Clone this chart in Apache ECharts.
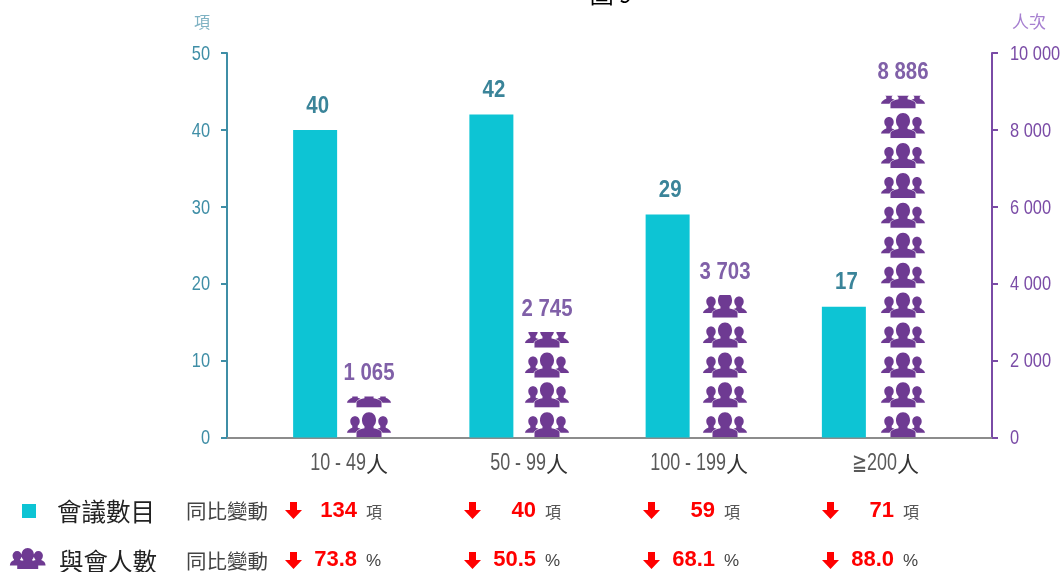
<!DOCTYPE html>
<html><head><meta charset="utf-8">
<script src="https://cdn.jsdelivr.net/npm/echarts@6/dist/echarts.min.js"></script>
<style>html,body{margin:0;padding:0;background:#fff}#c{width:1061px;height:572px}</style>
</head><body><div id="c"></div>
<script>
const categories = ['10 - 49人', '50 - 99人', '100 - 199人', '≧200人'];
const meetings = [40, 42, 29, 17];
const attendees = [1065, 2745, 3703, 8886];
const meetingChange = ['134', '40', '59', '71'];
const attendeeChange = ['73.8', '50.5', '68.1', '88.0'];
const leftTicks = [0, 10, 20, 30, 40, 50];
const rightTicks = [0, 2000, 4000, 6000, 8000, 10000];

const SANS = '"Liberation Sans",Arial,sans-serif';
const CJK = '"Noto Sans CJK TC",sans-serif';
const TEAL = '#3f8ea6', PURPLE = '#7a4ba6', ICON = '#6e3a92';
const NARROW = 0.78, NARROW_BOLD = 0.85;
const people = 'path://M22 0C26 0 29 3 29 8C29 10.5 28 12.5 26.5 14L26.5 16C29.5 16.5 33 17.5 34.5 19.5L34.5 25L9.5 25L9.5 19.5C11 17.5 14.5 16.5 17.5 16L17.5 14C16 12.5 15 10.5 15 8C15 3 18 0 22 0Z'
 + 'M8 4C10.7 4 12.7 6.2 12.7 9C12.7 11 11.7 12.5 10.7 13.5L10.7 15.5L13.5 16.5C11 17.5 9 18.8 8.5 20.5L0 20.5C0.3 18 3 16.5 5.3 15.5L5.3 13.5C4.3 12.5 3.3 11 3.3 9C3.3 6.2 5.3 4 8 4Z'
 + 'M36 4C38.7 4 40.7 6.2 40.7 9C40.7 11 39.7 12.5 38.7 13.5L38.7 15.5C41 16.5 43.7 18 44 20.5L35.5 20.5C35 18.8 33 17.5 30.5 16.5L33.3 15.5L33.3 13.5C32.3 12.5 31.3 11 31.3 9C31.3 6.2 33.3 4 36 4Z';

const txt = (x, y, text, font, fill, align, weight) => ({
  type: 'text', x, y, silent: true,
  style: { text, fill, font: (weight || 'normal') + ' ' + font, textAlign: align || 'left', textVerticalAlign: 'middle' }
});
const arrow = (x, y) => ({
  type: 'polygon', silent: true, x, y,
  shape: { points: [[5,0],[12,0],[12,8],[17,8],[8.5,17],[0,8],[5,8]] },
  style: { fill: '#ff0000' }
});
const rowX = [285, 464, 643, 822];
const graphics = [
  txt(611, -6, '圖 9', '24px ' + CJK, '#000', 'center'),
  txt(202, 22, '項', '16px ' + CJK, '#7fb2c3', 'center'),
  txt(1029, 22, '人次', '17px ' + CJK, '#a67fd0', 'center'),
  txt(57, 512, '會議數目', '24.5px ' + CJK, '#222'),
  txt(59, 562, '與會人數', '24.5px ' + CJK, '#222'),
  txt(186, 511, '同比變動', '20.5px ' + CJK, '#444'),
  txt(186, 561, '同比變動', '20.5px ' + CJK, '#444')
];
rowX.forEach((x, i) => {
  graphics.push(arrow(x, 502), arrow(x, 552));
  graphics.push(txt(x + 72, 511, meetingChange[i], '22px ' + SANS, '#ff0000', 'right', 'bold'));
  graphics.push(txt(x + 72, 560, attendeeChange[i], '22px ' + SANS, '#ff0000', 'right', 'bold'));
  graphics.push(txt(x + 81, 512, '項', '16px ' + CJK, '#555'));
  graphics.push(txt(x + 81, 561, '%', '17px ' + SANS, '#444'));
});

const valueFmt = v => String(v).replace(/\B(?=(\d{3})+$)/g, ' ');
const xBase = { type: 'category', data: categories, axisTick: { show: false }, axisLabel: { show: false },
  axisLine: { show: true, lineStyle: { color: '#8c8c8c', width: 2 } } };

// Condensed text drawn at library-computed coordinates
const narrowText = (x, y, text, fill, font, scale, align) => ({
  type: 'text', x, y, scaleX: scale, silent: true,
  style: { text, fill, font, textAlign: align, textVerticalAlign: 'middle' }
});
const dataLabels = (fmt, fill, dx, dy) => (params, api) => {
  const p = api.coord([api.value(0), api.value(1)]);
  return narrowText(p[0] + dx, p[1] - dy, fmt(api.value(1)), fill, 'bold 24px ' + SANS, NARROW_BOLD, 'center');
};
const tickLabels = (fill, side, align) => (params, api) => {
  const y = api.coord([0, api.value(0)])[1] + 1;
  const r = params.coordSys;
  const x = side === 'left' ? r.x - 17 : r.x + r.width + 18;
  return narrowText(x, y, valueFmt(api.value(0)), fill, '21px ' + SANS, NARROW, align);
};
const labelNudge = [-3, -1, 1, -6];
const categoryLabels = (params, api) => {
  const i = api.value(0);
  const x = api.coord([i, 0])[0] + labelNudge[i];
  const parts = categories[i].replace('人', '');
  return { type: 'group', children: [
    narrowText(x, 464, parts, '#595959', '23px ' + SANS, NARROW, 'right'),
    { type: 'text', x, y: 464, silent: true, style: { text: '人', fill: '#333', font: '22px ' + CJK, textAlign: 'left', textVerticalAlign: 'middle' } }
  ] };
};
const custom = (xi, yi, data, renderItem, y) => ({ type: 'custom', xAxisIndex: xi, yAxisIndex: yi, data, renderItem, silent: true, z: 5,
  encode: y === false ? { y: 0 } : { x: 0, y: 1 }, clip: false });

const chart = echarts.init(document.getElementById('c'), null, { renderer: 'canvas' });
chart.setOption({
  animation: false,
  backgroundColor: '#fff',
  grid: [
    { left: 227, top: 53, width: 705, height: 384.5, outerBoundsMode: 'none' },
    { left: 280, top: 53, width: 712, height: 384.5, outerBoundsMode: 'none' }
  ],
  legend: [
    { left: 22, top: 504, padding: 0, selectedMode: false, data: [{ name: '會議數目', icon: 'rect' }], itemWidth: 14, itemHeight: 14, itemGap: 0,
      formatter: () => '', textStyle: { fontSize: 1 } },
    { left: 10, top: 548, padding: 0, selectedMode: false, data: [{ name: '與會人數', icon: people }], itemWidth: 35, itemHeight: 19, itemGap: 0,
      formatter: () => '', textStyle: { fontSize: 1 } }
  ],
  xAxis: [
    Object.assign({}, xBase, { gridIndex: 0 }),
    Object.assign({}, xBase, { gridIndex: 1 })
  ],
  yAxis: [
    { type: 'value', gridIndex: 0, min: 0, max: 50, interval: 10, splitLine: { show: false },
      axisLine: { show: true, lineStyle: { color: TEAL, width: 2 } },
      axisTick: { show: true, length: 6, lineStyle: { color: TEAL, width: 2 } },
      axisLabel: { show: false } },
    { type: 'value', gridIndex: 1, position: 'right', min: 0, max: 10000, interval: 2000, splitLine: { show: false },
      axisLine: { show: true, lineStyle: { color: PURPLE, width: 2 } },
      axisTick: { show: true, length: 6, lineStyle: { color: PURPLE, width: 2 } },
      axisLabel: { show: false } }
  ],
  series: [
    { type: 'bar', name: '會議數目', xAxisIndex: 0, yAxisIndex: 0, data: meetings, barWidth: 44,
      itemStyle: { color: '#0dc4d4' } },
    { type: 'pictorialBar', name: '與會人數', xAxisIndex: 1, yAxisIndex: 1, data: attendees,
      symbol: people, symbolSize: [44, 25], symbolRepeat: 'fixed', symbolMargin: 2.5, symbolClip: true,
      symbolBoundingData: 10000, itemStyle: { color: ICON, borderColor: ICON, borderWidth: 0.6 } },
    custom(0, 0, meetings.map((v, i) => [i, v]), dataLabels(String, '#3a8499', 2.5, 24)),
    custom(1, 1, attendees.map((v, i) => [i, v]), dataLabels(valueFmt, '#8060a8', 0, 23)),
    custom(0, 0, leftTicks.map(v => [v]), tickLabels(TEAL, 'left', 'right'), false),
    custom(1, 1, rightTicks.map(v => [v]), tickLabels(PURPLE, 'right', 'left'), false),
    custom(1, 1, categories.map((c, i) => [i, 0]), categoryLabels)
  ],
  graphic: graphics
});
</script></body></html>
